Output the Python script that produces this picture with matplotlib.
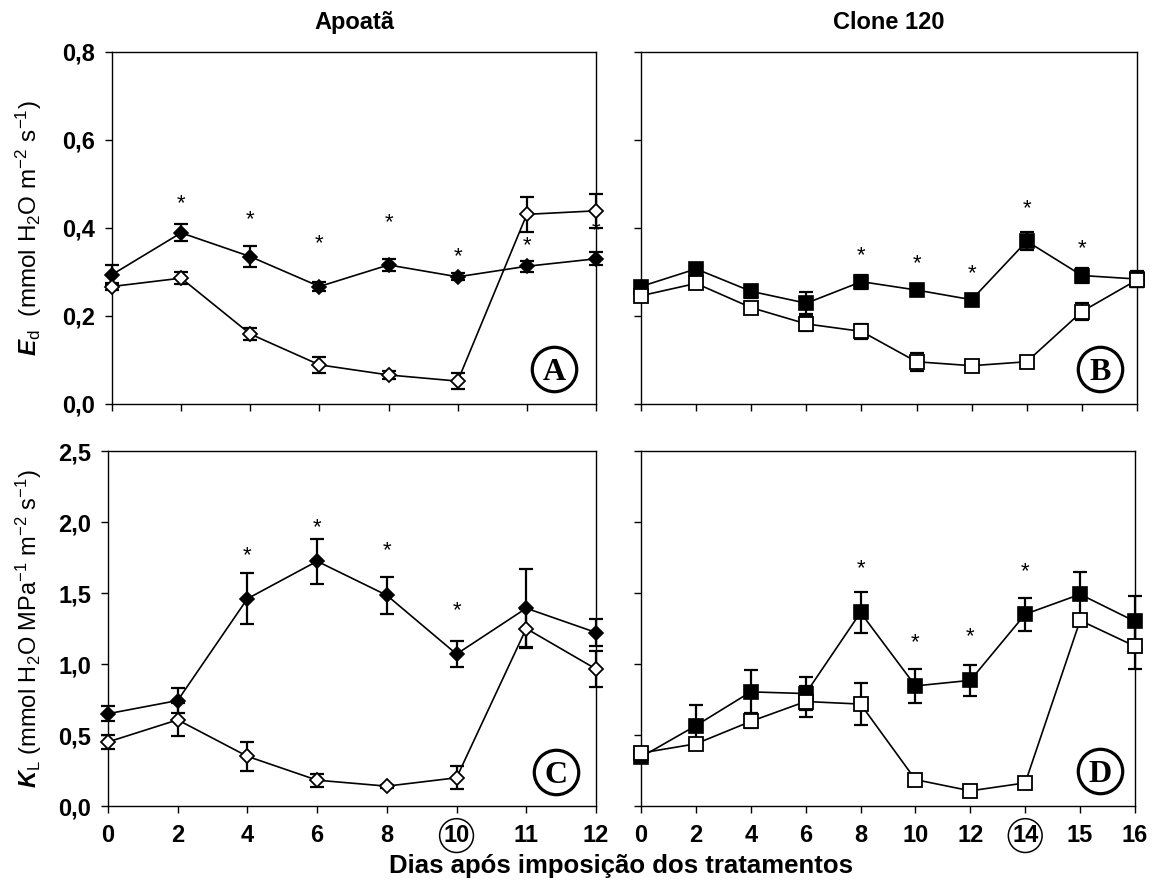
import matplotlib
matplotlib.use("Agg")
import matplotlib.pyplot as plt
from matplotlib.ticker import FixedLocator, FuncFormatter

plt.rcParams["font.family"] = "Liberation Sans"
plt.rcParams["mathtext.fontset"] = "custom"
plt.rcParams["mathtext.rm"] = "Liberation Sans"
plt.rcParams["mathtext.it"] = "Liberation Sans:italic"
plt.rcParams["mathtext.bf"] = "Liberation Sans:bold"
plt.rcParams["mathtext.bfit"] = "Liberation Sans:italic:bold"

# days after treatment imposition (categorical, evenly spaced)
days_apo = ["0", "2", "4", "6", "8", "10", "11", "12"]
days_clone = ["0", "2", "4", "6", "8", "10", "12", "14", "15", "16"]

# Ed, Apoatã
ed_apo_irr = [0.294, 0.389, 0.335, 0.267, 0.316, 0.289, 0.313, 0.330]
ed_apo_irr_err = [0.023, 0.019, 0.023, 0.010, 0.014, 0.008, 0.013, 0.015]
ed_apo_def = [0.267, 0.286, 0.159, 0.089, 0.066, 0.052, 0.431, 0.439]
ed_apo_def_err = [0.009, 0.013, 0.013, 0.018, 0.009, 0.019, 0.040, 0.039]
ed_apo_sig = [1, 2, 3, 4, 5, 6, 7]
ed_apo_sig_y = [0.456, 0.419, 0.365, 0.412, 0.335, 0.360, 0.394]

# Ed, Clone 120
ed_clone_irr = [0.267, 0.307, 0.256, 0.229, 0.278, 0.259, 0.237, 0.370, 0.292, 0.284]
ed_clone_irr_err = [0.010, 0.006, 0.015, 0.025, 0.016, 0.012, 0.014, 0.020, 0.016, 0.018]
ed_clone_def = [0.246, 0.274, 0.219, 0.182, 0.165, 0.096, 0.087, 0.096, 0.210, 0.282]
ed_clone_def_err = [0.012, 0.008, 0.010, 0.017, 0.017, 0.020, 0.008, 0.008, 0.020, 0.015]
ed_clone_sig = [4, 5, 6, 7, 8]
ed_clone_sig_y = [0.336, 0.318, 0.297, 0.444, 0.353]

# KL, Apoatã
kl_apo_irr = [0.650, 0.743, 1.460, 1.724, 1.484, 1.070, 1.393, 1.222]
kl_apo_irr_err = [0.054, 0.086, 0.180, 0.157, 0.131, 0.094, 0.275, 0.093]
kl_apo_def = [0.451, 0.607, 0.350, 0.182, 0.140, 0.199, 1.250, 0.965]
kl_apo_def_err = [0.050, 0.117, 0.100, 0.047, 0.010, 0.082, 0.140, 0.125]
kl_apo_sig = [2, 3, 4, 5]
kl_apo_sig_y = [1.766, 1.958, 1.799, 1.374]

# KL, Clone 120
kl_clone_irr = [0.345, 0.566, 0.804, 0.792, 1.363, 0.846, 0.885, 1.351, 1.491, 1.300]
kl_clone_irr_err = [0.020, 0.147, 0.151, 0.117, 0.147, 0.121, 0.107, 0.117, 0.158, 0.180]
kl_clone_def = [0.373, 0.438, 0.596, 0.736, 0.718, 0.186, 0.107, 0.163, 1.307, 1.125]
kl_clone_def_err = [0.030, 0.030, 0.050, 0.110, 0.145, 0.010, 0.040, 0.010, 0.010, 0.160]
kl_clone_sig = [4, 5, 6, 7]
kl_clone_sig_y = [1.673, 1.149, 1.196, 1.650]


def comma(v, pos):
    return f"{v:.1f}".replace(".", ",")


def draw_panel(ax, days, irr, irr_err, dfc, dfc_err, sig, sig_y, marker, ms):
    x = list(range(len(days)))
    for y, e in ((irr, irr_err), (dfc, dfc_err)):
        ax.errorbar(x, y, yerr=e, fmt="none", ecolor="black", elinewidth=1.6,
                    capsize=5, capthick=1.6, clip_on=False, zorder=2)
    ax.plot(x, irr, "-", color="black", lw=1.2, marker=marker, ms=ms,
            mfc="black", mec="black", mew=1.2, clip_on=False, zorder=3)
    ax.plot(x, dfc, "-", color="black", lw=1.2, marker=marker, ms=ms,
            mfc="white", mec="black", mew=1.3, clip_on=False, zorder=4)
    for i, yy in zip(sig, sig_y):
        ax.text(i, yy, "*", ha="center", va="center", fontsize=16)
    ax.set_xlim(0, len(days) - 1)
    ax.xaxis.set_major_locator(FixedLocator(x))
    ax.set_xticklabels(days)
    for side in ("left", "right", "top", "bottom"):
        ax.spines[side].set_linewidth(1.0)
    ax.tick_params(direction="out", length=5, width=1.0, labelsize=17, pad=7)
    ax.tick_params(axis="x", pad=8)


def panel_letter(ax, letter, fx, fy):
    ax.plot([fx], [fy], marker="o", ms=32, mfc="white", mec="black", mew=2.3,
            transform=ax.transAxes, clip_on=False, zorder=5)
    ax.text(fx, fy, letter, transform=ax.transAxes, ha="center",
            va="center_baseline", family="Liberation Serif", weight="bold",
            fontsize=23, zorder=6)


fig = plt.figure(figsize=(11.57, 8.84), dpi=100)
ax_a = fig.add_axes([0.0968, 0.5430, 0.4183, 0.3982])
ax_b = fig.add_axes([0.5540, 0.5430, 0.4287, 0.3982])
ax_c = fig.add_axes([0.0933, 0.0882, 0.4218, 0.4016])
ax_d = fig.add_axes([0.5540, 0.0882, 0.4270, 0.4016])

draw_panel(ax_a, days_apo, ed_apo_irr, ed_apo_irr_err, ed_apo_def,
           ed_apo_def_err, ed_apo_sig, ed_apo_sig_y, "D", 7.2)
draw_panel(ax_b, days_clone, ed_clone_irr, ed_clone_irr_err, ed_clone_def,
           ed_clone_def_err, ed_clone_sig, ed_clone_sig_y, "s", 9.5)
draw_panel(ax_c, days_apo, kl_apo_irr, kl_apo_irr_err, kl_apo_def,
           kl_apo_def_err, kl_apo_sig, kl_apo_sig_y, "D", 7.2)
draw_panel(ax_d, days_clone, kl_clone_irr, kl_clone_irr_err, kl_clone_def,
           kl_clone_def_err, kl_clone_sig, kl_clone_sig_y, "s", 9.5)

for ax in (ax_a, ax_b):
    ax.set_ylim(0, 0.8)
    ax.set_yticks([0, 0.2, 0.4, 0.6, 0.8])
    ax.tick_params(labelbottom=False)
for ax in (ax_c, ax_d):
    ax.set_ylim(0, 2.5)
    ax.set_yticks([0, 0.5, 1.0, 1.5, 2.0, 2.5])
for ax in (ax_a, ax_c):
    ax.yaxis.set_major_formatter(FuncFormatter(comma))
    for lab in ax.get_yticklabels() + ax.get_xticklabels():
        lab.set_fontweight("bold")
for ax in (ax_b, ax_d):
    ax.tick_params(labelleft=False)
    for lab in ax.get_xticklabels():
        lab.set_fontweight("bold")

# day of re-watering is circled on the x axis
ax_c.get_xticklabels()[5].set_bbox(dict(boxstyle="circle,pad=0.16", fc="none", ec="black", lw=1.1))
ax_d.get_xticklabels()[7].set_bbox(dict(boxstyle="circle,pad=0.16", fc="none", ec="black", lw=1.1))

panel_letter(ax_a, "A", 0.914, 0.10)
panel_letter(ax_b, "B", 0.925, 0.10)
panel_letter(ax_c, "C", 0.919, 0.097)
panel_letter(ax_d, "D", 0.929, 0.10)

fig.text(0.306, 0.974, "Apoatã", ha="center", va="center", fontsize=17, weight="bold")
fig.text(0.768, 0.974, "Clone 120", ha="center", va="center", fontsize=17, weight="bold")
fig.text(0.537, 0.012, "Dias após imposição dos tratamentos", ha="center",
         va="baseline", fontsize=18.5, weight="bold")
fig.text(0.025, 0.742,
         r"$\mathbfit{E}_{\mathrm{d}}$  (mmol H$_{\mathrm{2}}$O m$^{\mathrm{-2}}$ s$^{\mathrm{-1}}$)",
         rotation=90, ha="center", va="center", fontsize=17.5)
fig.text(0.025, 0.289,
         r"$\mathbfit{K}_{\mathrm{L}}$ (mmol H$_{\mathrm{2}}$O MPa$^{\mathrm{-1}}$ m$^{\mathrm{-2}}$ s$^{\mathrm{-1}}$)",
         rotation=90, ha="center", va="center", fontsize=17)

fig.savefig("out.png", dpi=100)
